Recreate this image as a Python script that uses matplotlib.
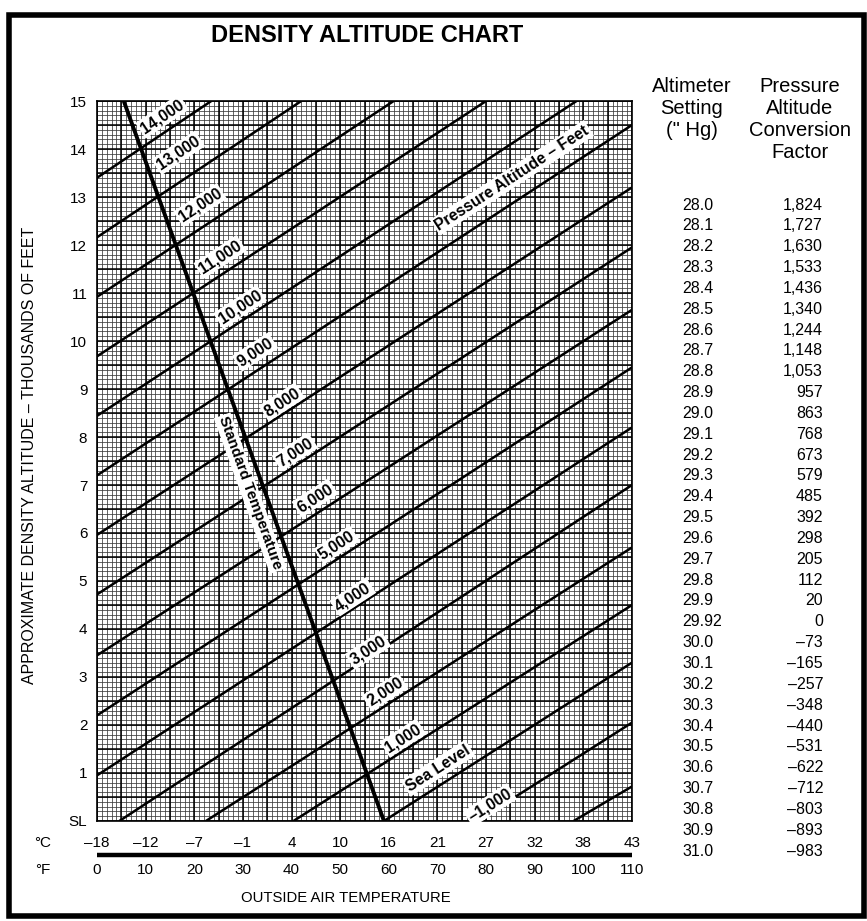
import numpy as np
import matplotlib
matplotlib.use("Agg")
import matplotlib.pyplot as plt
from matplotlib.transforms import blended_transform_factory
from matplotlib.patches import Rectangle

plt.rcParams['font.family'] = ['Liberation Sans', 'DejaVu Sans']

W, H = 867, 921

# pressure altitude lines: where each enters and leaves the grid
# (temperature in deg F, density altitude in thousands of feet)
pressure_alt = [-2000, -1000, 0, 1000, 2000, 3000, 4000, 5000, 6000,
                7000, 8000, 9000, 10000, 11000, 12000, 13000, 14000]
line_t0 = [98.0, 78.2, 59.0, 40.4, 22.4, 4.6, 0, 0, 0, 0, 0, 0, 0, 0, 0, 0, 0]
line_da0 = [0, 0, 0, 0, 0, 0, 0.95, 2.2, 3.45, 4.72, 5.96, 7.2, 8.44, 9.68, 10.92, 12.16, 13.4]
line_t1 = [110, 110, 110, 110, 110, 110, 110, 110, 110, 110, 110, 110, 98.6, 80.0, 61.0, 42.0, 23.5]
line_da1 = [0.72, 2.05, 3.3, 4.5, 5.7, 7.0, 8.2, 9.45, 10.65, 11.95, 13.2, 14.5, 15, 15, 15, 15, 15]

# standard temperature line
std_t = [59.0, 5.5]
std_da = [0, 15]

# labels on the pressure altitude lines (-1,000 up to 14,000)
line_labels = ['\u20131,000', 'Sea Level', '1,000', '2,000', '3,000', '4,000', '5,000',
               '6,000', '7,000', '8,000', '9,000', '10,000', '11,000', '12,000',
               '13,000', '14,000']
lab_t = [80.8, 70.1, 62.9, 59.2, 55.7, 52.6, 49.3, 44.8, 40.7, 38.0, 32.5, 29.4, 25.3, 21.2, 16.7, 13.4]
lab_da = [0.33, 1.10, 1.73, 2.69, 3.56, 4.67, 5.75, 6.73, 7.69, 8.73, 9.77, 10.71, 11.75, 12.83, 13.92, 14.68]

# axis labels
ytick_labels = ['SL'] + [str(i) for i in range(1, 16)]
temp_f = [0, 10, 20, 30, 40, 50, 60, 70, 80, 90, 100, 110]
temp_c = ['\u201318', '\u201312', '\u20137', '\u20131', '4', '10', '16', '21', '27', '32', '38', '43']

# conversion table
alt_setting = ['28.0', '28.1', '28.2', '28.3', '28.4', '28.5', '28.6', '28.7', '28.8', '28.9',
               '29.0', '29.1', '29.2', '29.3', '29.4', '29.5', '29.6', '29.7', '29.8', '29.9',
               '29.92', '30.0', '30.1', '30.2', '30.3', '30.4', '30.5', '30.6', '30.7', '30.8',
               '30.9', '31.0']
conv_factor = ['1,824', '1,727', '1,630', '1,533', '1,436', '1,340', '1,244', '1,148', '1,053', '957',
               '863', '768', '673', '579', '485', '392', '298', '205', '112', '20',
               '0', '\u201373', '\u2013165', '\u2013257', '\u2013348', '\u2013440', '\u2013531', '\u2013622',
               '\u2013712', '\u2013803', '\u2013893', '\u2013983']


def fx(px):
    return px / W


def fy(py):
    return 1 - py / H


fig = plt.figure(figsize=(W / 100, H / 100), dpi=100)
fig.patch.set_facecolor('white')

ax = fig.add_axes([fx(97), fy(821), (632 - 97) / W, (821 - 101) / H])
ax.set_xlim(0, 110)
ax.set_ylim(0, 15)

# graph paper
ax.vlines(np.arange(0, 111, 1), 0, 15, color='#3a3a3a', lw=0.55, zorder=1)
ax.hlines(np.arange(0, 15.01, 0.1), 0, 110, color='#3a3a3a', lw=0.55, zorder=1)
ax.vlines(np.arange(0, 111, 5), 0, 15, color='black', lw=1.1, zorder=2)
ax.hlines(np.arange(0, 15.01, 0.5), 0, 110, color='black', lw=1.1, zorder=2)

for t0, d0, t1, d1 in zip(line_t0, line_da0, line_t1, line_da1):
    ax.plot([t0, t1], [d0, d1], color='black', lw=1.8, zorder=3, solid_capstyle='butt')

ax.plot(std_t, std_da, color='black', lw=2.8, zorder=4, solid_capstyle='butt')

lbox = dict(boxstyle='square,pad=0.12', fc='white', ec='none')
for i, txt in enumerate(line_labels):
    k = i + 1
    ang = np.degrees(np.arctan2(line_da1[k] - line_da0[k], line_t1[k] - line_t0[k]))
    ax.text(lab_t[i], lab_da[i], txt, rotation=ang, transform_rotates_text=True,
            rotation_mode='anchor', ha='center', va='center', fontsize=11.3,
            fontweight='bold', zorder=6, bbox=lbox)

ang = np.degrees(np.arctan2(line_da1[9] - line_da0[9], line_t1[9] - line_t0[9]))
ax.text(85.3, 13.4, 'Pressure Altitude \u2013 Feet', rotation=ang, transform_rotates_text=True,
        rotation_mode='anchor', ha='center', va='center', fontsize=11.3, fontweight='bold',
        zorder=6, bbox=lbox)

ang = np.degrees(np.arctan2(std_da[1] - std_da[0], std_t[1] - std_t[0])) + 180
ax.text(31.5, 6.83, 'Standard Temperature', rotation=ang, transform_rotates_text=True,
        rotation_mode='anchor', ha='center', va='center', fontsize=11, fontweight='bold',
        zorder=6, bbox=lbox)

for s in ax.spines.values():
    s.set_linewidth(1.2)
ax.set_xticks([])
ax.set_yticks(range(16))
ax.set_yticklabels(ytick_labels, fontsize=11)
ax.tick_params(axis='y', length=0, pad=7)

# temperature scales under the chart
tr = blended_transform_factory(ax.transData, fig.transFigure)
for f, c in zip(temp_f, temp_c):
    fig.text(f, fy(843), c, transform=tr, ha='center', va='center', fontsize=11)
    fig.text(f, fy(870), str(f), transform=tr, ha='center', va='center', fontsize=11)
ax.plot([0, 110], [fy(855), fy(855)], transform=tr, color='black', lw=3.2,
        clip_on=False, solid_capstyle='butt')
fig.text(fx(43), fy(843), '\u00b0C', ha='center', va='center', fontsize=11)
fig.text(fx(43), fy(870), '\u00b0F', ha='center', va='center', fontsize=11)
fig.text(fx(346), fy(898), 'OUTSIDE AIR TEMPERATURE', ha='center', va='center', fontsize=10.7)

fig.text(fx(30), fy(455), 'APPROXIMATE DENSITY ALTITUDE \u2013 THOUSANDS OF FEET',
         rotation=90, ha='center', va='center', fontsize=11.5)

fig.text(fx(367), fy(36), 'DENSITY ALTITUDE CHART', ha='center', va='center',
         fontsize=17, fontweight='bold')

# conversion table
fig.text(fx(692), fy(108), 'Altimeter\nSetting\n(" Hg)', ha='center', va='center',
         fontsize=14.5, linespacing=1.2)
fig.text(fx(800), fy(119), 'Pressure\nAltitude\nConversion\nFactor', ha='center', va='center',
         fontsize=14.5, linespacing=1.2)
for i, (a, c) in enumerate(zip(alt_setting, conv_factor)):
    y = 205 + i * 20.84
    fig.text(fx(682), fy(y), a, ha='left', va='center', fontsize=11.5)
    fig.text(fx(823), fy(y), c, ha='right', va='center', fontsize=11.5)

fig.patches.append(Rectangle((fx(9), fy(916)), fx(864) - fx(9), fy(15) - fy(916),
                             transform=fig.transFigure, fill=False, ec='black', lw=4))

fig.savefig('out.png', dpi=100)
